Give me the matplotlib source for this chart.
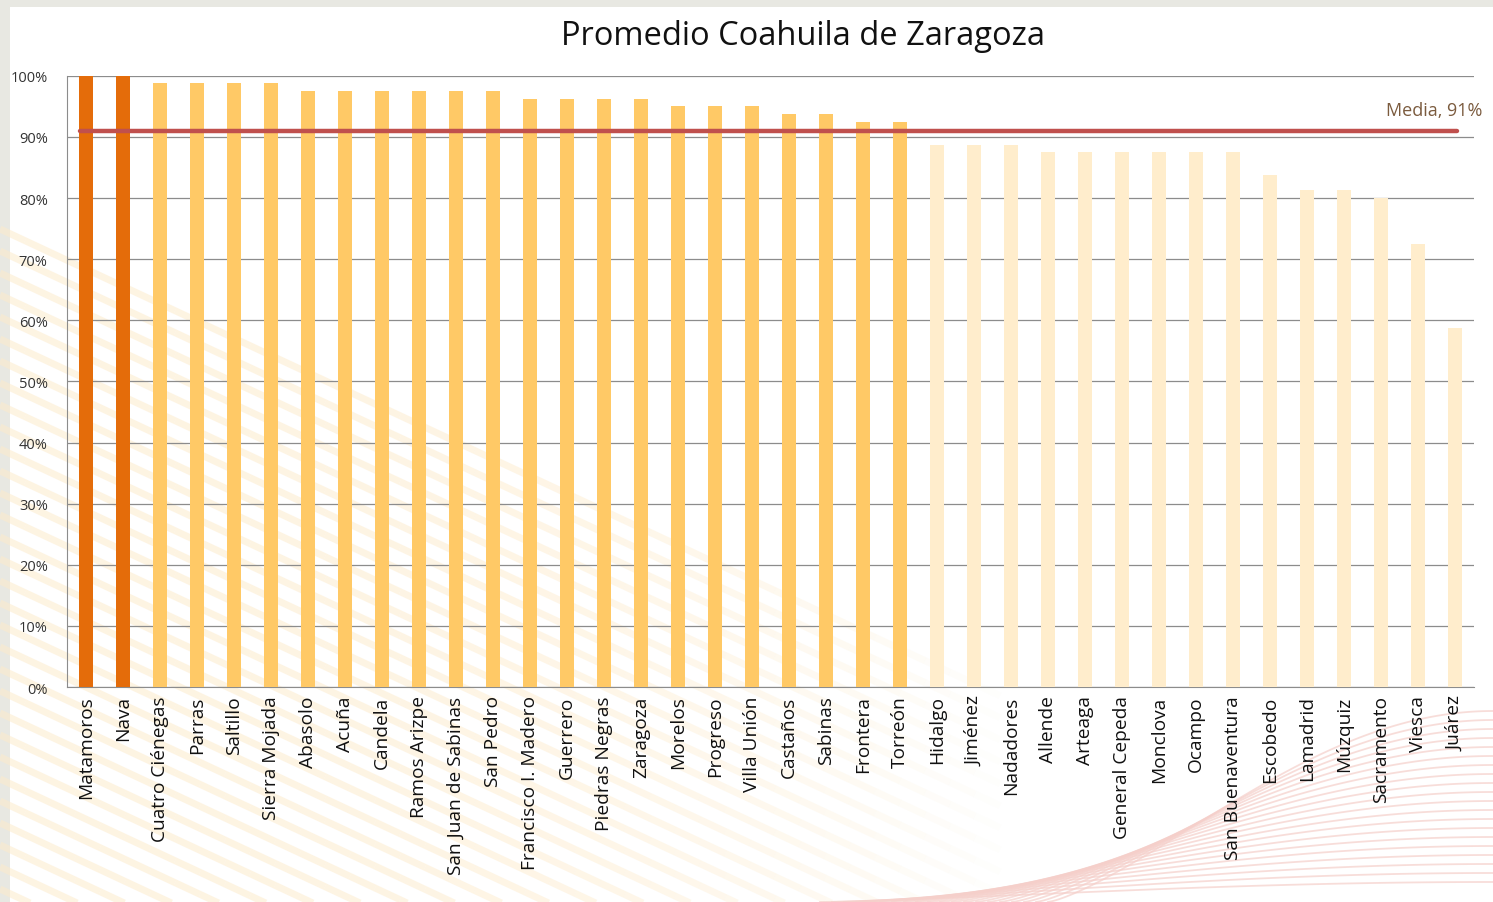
import matplotlib
matplotlib.use("Agg")
import matplotlib.pyplot as plt
import numpy as np

categories = ["Matamoros", "Nava", "Cuatro Ciénegas", "Parras", "Saltillo", "Sierra Mojada",
              "Abasolo", "Acuña", "Candela", "Ramos Arizpe", "San Juan de Sabinas", "San Pedro",
              "Francisco I. Madero", "Guerrero", "Piedras Negras", "Zaragoza", "Morelos", "Progreso",
              "Villa Unión", "Castaños", "Sabinas", "Frontera", "Torreón", "Hidalgo", "Jiménez",
              "Nadadores", "Allende", "Arteaga", "General Cepeda", "Monclova", "Ocampo",
              "San Buenaventura", "Escobedo", "Lamadrid", "Múzquiz", "Sacramento", "Viesca", "Juárez"]
values = [100, 100, 98.75, 98.75, 98.75, 98.75,
          97.5, 97.5, 97.5, 97.5, 97.5, 97.5,
          96.25, 96.25, 96.25, 96.25, 95, 95,
          95, 93.75, 93.75, 92.5, 92.5, 88.75, 88.75,
          88.75, 87.5, 87.5, 87.5, 87.5, 87.5,
          87.5, 83.75, 81.25, 81.25, 80, 72.5, 58.75]
groups = [0]*2 + [1]*21 + [2]*15
media = 91
title = "Promedio Coahuila de Zaragoza"
media_label = "Media, 91%"

palette = {0: "#E46C0A", 1: "#FFC966", 2: "#FFEDCC"}

plt.rcParams['font.family'] = ['Open Sans', 'DejaVu Sans']
fig = plt.figure(figsize=(14.93, 9.03), dpi=100)
fig.patch.set_facecolor("white")

# decorative slide background
bg = fig.add_axes([0, 0, 1, 1], zorder=-10)
bg.set_xlim(0, 1493); bg.set_ylim(903, 0); bg.axis("off")
bg.add_patch(plt.Rectangle((0, 0), 1493, 8, color="#E8E8E2", lw=0))
bg.add_patch(plt.Rectangle((0, 0), 10, 903, color="#E8E8E2", lw=0))
for k in range(0, 45):
    y0 = 230 + k * 22
    n = 40
    xs = np.linspace(0, 1000, n + 1)
    ys = y0 + xs * 420 / 900
    for i in range(n):
        a = 0.55 * max(0.0, 1 - (xs[i] / 1000) ** 3)
        bg.plot(xs[i:i + 2], ys[i:i + 2], color="#FDEBCB", lw=5, alpha=a, solid_capstyle="butt")
t = np.linspace(0, 1, 120)
for k in range(20):
    x0 = 820 + k * 12
    xs = x0 + t * (1493 - x0)
    ys = 903 - (np.sin(t * np.pi / 2) ** 1.3) * (20 + k * 9)
    bg.plot(xs, ys, color="#F5CFCA", lw=1.3, alpha=0.7)

ax = fig.add_axes([0.045, 0.238, 0.942, 0.677])
ax.patch.set_alpha(0)
x = np.arange(len(categories))
ax.bar(x, values, width=0.38, color=[palette[g] for g in groups], zorder=3)
ax.set_xlim(-0.5, len(categories) - 0.5)
ax.set_ylim(0, 100)
ax.set_yticks(np.arange(0, 101, 10))
ax.set_yticklabels([f"{v}%" for v in range(0, 101, 10)], fontsize=10.5, color="#333333")
ax.yaxis.grid(True, color="#8C8C8C", lw=0.9, zorder=1)
ax.set_axisbelow(True)
ax.set_xticks(x)
ax.set_xticklabels(categories, rotation=90, fontsize=13.8, color="#111111")
ax.tick_params(axis="x", length=0, pad=6)
ax.tick_params(axis="y", length=0, pad=14)
for s in ["top", "right"]:
    ax.spines[s].set_visible(False)
ax.spines["left"].set_color("#8C8C8C")
ax.spines["bottom"].set_color("#8C8C8C")

ax.plot([-0.15, len(categories) - 0.95], [media, media], color="#C0504D", lw=3.2,
        solid_capstyle="round", zorder=4)
ax.text(len(categories) - 0.25, media + 1.9, media_label, ha="right", va="bottom",
        fontsize=13, color="#7B5B3E")

fig.text(0.538, 0.960, title, ha="center", va="center", fontsize=23.5, color="#111111")

fig.savefig("out.png", dpi=100)
